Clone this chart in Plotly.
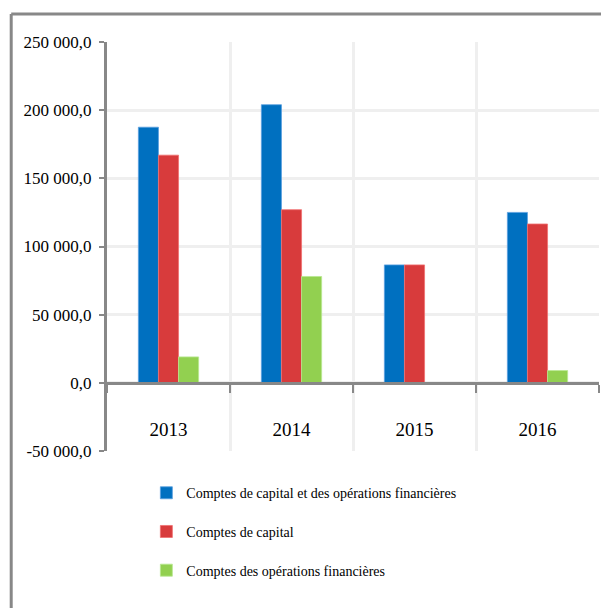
import plotly.graph_objects as go

years = ["2013", "2014", "2015", "2016"]
total = [187500, 204000, 86500, 125000]
capital = [167000, 127000, 86500, 116500]
financial = [19000, 78000, 0, 9000]

series_names = [
    "Comptes de capital et des opérations financières",
    "Comptes de capital",
    "Comptes des opérations financières",
]
colors = ["#0070c0", "#d83b3c", "#92d050"]
outlines = ["#5aa0e0", "#f07070", "#b8e890"]

y_tickvals = [-50000, 0, 50000, 100000, 150000, 200000, 250000]
y_ticktext = ["-50 000,0", "0,0", "50 000,0", "100 000,0", "150 000,0", "200 000,0", "250 000,0"]

fig = go.Figure()
for i, (name, vals) in enumerate(zip(series_names, [total, capital, financial])):
    fig.add_trace(go.Bar(
        x=years, y=vals, name=name,
        marker=dict(color=colors[i], line=dict(color=outlines[i], width=0.8)),
        legendgroup=f"g{i}",
    ))

FONT = "Liberation Serif, Times New Roman, serif"
fig.update_layout(
    width=601, height=600,
    margin=dict(l=99, r=10, t=34, b=157, autoexpand=False),
    paper_bgcolor="white", plot_bgcolor="white",
    barmode="group", bargap=0.51, bargroupgap=0,
    font=dict(family=FONT, size=16, color="black"),
    showlegend=True,
    legend=dict(
        x=0.080, y=-0.064, xanchor="left", yanchor="top",
        orientation="v", tracegroupgap=17.5,
        font=dict(family=FONT, size=14, color="black"),
        itemwidth=30, bgcolor="rgba(0,0,0,0)",
    ),
    xaxis=dict(
        type="category", anchor="free", position=1/6,
        showline=True, linecolor="#888888", linewidth=3,
        ticks="outside", tickson="boundaries", ticklen=8, tickwidth=2, tickcolor="#888888",
        showgrid=True, gridcolor="#efefef", gridwidth=3,
        tickfont=dict(family=FONT, size=19, color="black"),
        ticklabelstandoff=28,
        zeroline=False,
    ),
    yaxis=dict(
        range=[-50000, 250000],
        tickvals=y_tickvals, ticktext=y_ticktext,
        showline=True, linecolor="#888888", linewidth=3,
        ticks="outside", ticklen=5, tickwidth=2, tickcolor="#888888",
        showgrid=True, gridcolor="#efefef", gridwidth=3,
        zeroline=False, automargin=False,
        ticklabelstandoff=4,
        tickfont=dict(family=FONT, size=17, color="black"),
    ),
    shapes=[
        dict(type="line", xref="paper", yref="paper",
             x0=-0.1947, x1=1.1, y0=1.0685, y1=1.0685,
             line=dict(color="#888888", width=3)),
        dict(type="line", xref="paper", yref="paper",
             x0=-0.1947, x1=-0.1947, y0=1.0685, y1=-0.5,
             line=dict(color="#888888", width=3)),
    ],
)

fig.write_html("out.html")
